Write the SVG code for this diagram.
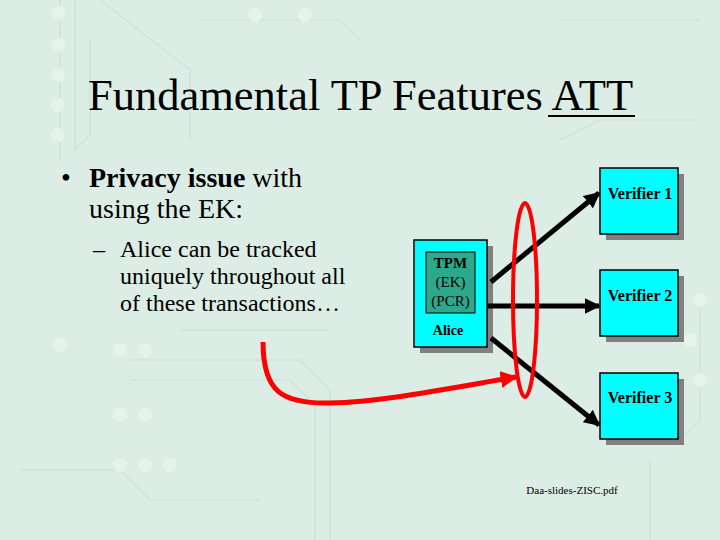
<svg xmlns="http://www.w3.org/2000/svg" width="720" height="540" viewBox="0 0 720 540">
<defs>
<style>
.bg{fill:#DCEDE5}
.trace{fill:none;stroke:#D2E6DC;stroke-width:2}
.pad{fill:#E6F3EC}
.serif{font-family:'Liberation Serif','Times New Roman',serif}
.box{fill:#00FFFF;stroke:#000;stroke-width:1.5}
.shadow{fill:#808080}
.tpm{fill:#2EA88A;stroke:#000;stroke-width:1}
.lbl{font-size:15px;font-weight:bold;fill:#000;text-anchor:middle}
.vl{font-size:16px;font-weight:bold;fill:#000;text-anchor:middle}
.tl{font-size:15px;fill:#000;text-anchor:middle}
.conn{stroke:#000;stroke-width:5;fill:none}
.red{stroke:#FF0000;stroke-width:5;fill:none}
</style>
<marker id="ah" viewBox="0 0 10 10" refX="9" refY="5" markerWidth="3.2" markerHeight="3.2" orient="auto" markerUnits="strokeWidth">
<path d="M0,0 L10,5 L0,10 z" fill="#000"/>
</marker>
<marker id="ahr" viewBox="0 0 10 10" refX="9" refY="5" markerWidth="3.4" markerHeight="3.4" orient="auto" markerUnits="strokeWidth">
<path d="M0,0 L10,5 L0,10 z" fill="#FF0000"/>
</marker>
</defs>
<rect class="bg" x="0" y="0" width="720" height="540"/>
<g id="background-traces">
<path class="trace" d="M60,0 V160 M75,0 V150 L90,135 V40 M100,0 L190,70 V140 M130,360 H300 L330,390 V540 M130,380 H290 L315,405 V540 M20,470 H120 L150,500 H260 M180,330 H330 M200,20 H340 L360,40 M560,20 H700 M560,140 L600,120 H700 M650,460 V540 M700,300 V420 L680,440"/>
<circle class="pad" cx="58" cy="13" r="7"/><circle class="pad" cx="58" cy="45" r="7"/><circle class="pad" cx="58" cy="75" r="7"/><circle class="pad" cx="58" cy="105" r="7"/><circle class="pad" cx="58" cy="135" r="7"/>
<circle class="pad" cx="60" cy="345" r="7"/><circle class="pad" cx="120" cy="350" r="7"/><circle class="pad" cx="145" cy="350" r="7"/><circle class="pad" cx="120" cy="415" r="7"/><circle class="pad" cx="145" cy="415" r="7"/><circle class="pad" cx="120" cy="465" r="7"/><circle class="pad" cx="145" cy="465" r="7"/><circle class="pad" cx="170" cy="465" r="7"/>
<circle class="pad" cx="255" cy="15" r="7"/><circle class="pad" cx="305" cy="15" r="7"/>
<circle class="pad" cx="700" cy="300" r="7"/><circle class="pad" cx="690" cy="340" r="7"/><circle class="pad" cx="700" cy="380" r="7"/>
</g>
<g id="title">
<text class="serif" x="88" y="110" font-size="44.5" fill="#000">Fundamental TP Features ATT</text>
<line x1="548" y1="116" x2="635" y2="116" stroke="#000" stroke-width="2"/>
</g>
<g id="bullets" fill="#000">
<text class="serif" x="61" y="187" font-size="28">•</text>
<text class="serif" x="89" y="187" font-size="28"><tspan font-weight="bold">Privacy issue</tspan> with</text>
<text class="serif" x="89" y="218" font-size="28">using the EK:</text>
<text class="serif" x="93" y="257" font-size="24">–</text>
<text class="serif" x="120" y="257" font-size="24">Alice can be tracked</text>
<text class="serif" x="120" y="284" font-size="24">uniquely throughout all</text>
<text class="serif" x="120" y="311" font-size="24">of these transactions…</text>
</g>
<g id="alice">
<rect class="shadow" x="420" y="246" width="73" height="107"/>
<rect class="box" x="414" y="240" width="73" height="107"/>
<rect class="tpm" x="426" y="252" width="49" height="61"/>
<text class="serif lbl" x="450.5" y="268">TPM</text>
<text class="serif tl" x="450.5" y="287">(EK)</text>
<text class="serif tl" x="450.5" y="306">(PCR)</text>
<text class="serif lbl" x="448" y="335" style="font-size:14px">Alice</text>
</g>
<g id="verifier1">
<rect class="shadow" x="606" y="174" width="78" height="66"/>
<rect class="box" x="600" y="168" width="78" height="66"/>
<text class="serif vl" x="640" y="199">Verifier 1</text>
</g>
<g id="verifier2">
<rect class="shadow" x="606" y="276" width="78" height="66"/>
<rect class="box" x="600" y="270" width="78" height="66"/>
<text class="serif vl" x="640" y="301">Verifier 2</text>
</g>
<g id="verifier3">
<rect class="shadow" x="606" y="379" width="78" height="66"/>
<rect class="box" x="600" y="373" width="78" height="66"/>
<text class="serif vl" x="640" y="403">Verifier 3</text>
</g>
<g id="connectors">
<line class="conn" x1="491" y1="282" x2="599" y2="193" marker-end="url(#ah)"/>
<line class="conn" x1="487" y1="306" x2="599" y2="306" marker-end="url(#ah)"/>
<line class="conn" x1="491" y1="338" x2="599" y2="425" marker-end="url(#ah)"/>
<ellipse class="red" cx="525" cy="300" rx="12" ry="97" style="stroke-width:4px"/>
<path class="red" d="M263,342 C263,392 282,404 330,403 C380,402 440,390 516,377" marker-end="url(#ahr)"/>
</g>
<g id="source">
<text class="serif" x="572" y="494" font-size="11" text-anchor="middle" fill="#000">Daa-slides-ZISC.pdf</text>
</g>
</svg>
